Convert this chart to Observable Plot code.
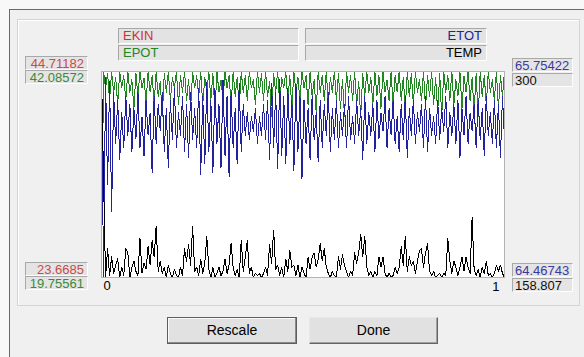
<!DOCTYPE html>
<html><head><meta charset="utf-8">
<script src="https://cdn.jsdelivr.net/npm/d3@7"></script>
<script src="https://cdn.jsdelivr.net/npm/@observablehq/plot@0.6"></script>
<style>
html,body{margin:0;padding:0}
body{width:584px;height:357px;overflow:hidden;background:#f8f8f8;position:relative;font-family:"Liberation Sans",Arial,sans-serif;}
.abs{position:absolute;box-sizing:border-box}
#win{left:9px;top:9px;width:590px;height:360px;background:#f0f0f0;border-left:1px solid #6a6a6a;border-top:1px solid #6a6a6a}
#grp{left:17px;top:19px;width:563px;height:287px;border:1px solid #d4d4d4;box-shadow:inset 1px 1px 0 #fff}
.lbl{background:#e3e3e3;border-top:1px solid #a8a8a8;border-left:1px solid #a8a8a8;border-bottom:1px solid #fff;border-right:1px solid #fff;font-size:13px;line-height:14px;white-space:nowrap;overflow:hidden}
.val{background:#e4e4e4;border-top:1px solid #a8a8a8;border-left:1px solid #a8a8a8;border-bottom:1px solid #fdfdfd;border-right:1px solid #fdfdfd;font-size:13px;line-height:13px;white-space:nowrap;overflow:hidden}
.btn{background:#e1e1e1;font-size:14px;text-align:center;line-height:25px;color:#000}
#plot{left:101px;top:71px}
</style></head>
<body>
<div class="abs" id="win"></div>
<div class="abs" id="grp"></div>
<div id="labels"></div>
<div class="abs" id="plot"></div>
<div class="abs btn" style="left:167px;top:317px;width:130px;height:27px;border:1px solid #5e5e5e;box-shadow:inset -1px -1px 0 #8a8a8a, inset 1px 1px 0 #fafafa">Rescale</div>
<div class="abs btn" style="left:309px;top:317px;width:129px;height:27px;border-top:1px solid #e8e8e8;border-left:1px solid #e8e8e8;border-bottom:1px solid #646464;border-right:1px solid #646464;box-shadow:inset -1px -1px 0 #a0a0a0">Done</div>
<script>
// ---- chart data ----
const seriesNames = ["EKIN", "EPOT", "ETOT", "TEMP"];
const scaleMax = [44.71182, 42.08572, 65.75422, 300];
const scaleMaxText = ["44.71182", "42.08572", "65.75422", "300"];
const scaleMin = [23.6685, 19.75561, 64.46743, 158.807];
const scaleMinText = ["23.6685", "19.75561", "64.46743", "158.807"];
const timeTicks = [0, 1];

const epot = [
19.756,42.08,40.30,41.86,38.96,42.08,39.85,41.42,38.51,42.08,
40.30,41.64,38.96,42.08,39.85,41.19,38.07,41.86,39.41,42.08,
40.30,41.42,38.74,42.08,39.85,41.64,38.51,42.08,39.41,40.97,
37.17,41.86,39.85,42.08,38.96,41.42,40.30,42.08,38.51,41.64,
39.85,42.08,38.96,41.19,38.07,42.08,40.30,41.64,39.41,42.08,
38.51,41.42,39.85,42.08,38.96,41.86,37.62,42.08,39.85,41.19,
38.96,42.08,40.30,41.64,38.51,42.08,39.41,41.42,38.07,42.08,
39.85,41.64,38.96,42.08,40.30,41.19,38.51,42.08,39.85,41.86,
38.96,42.08,39.41,40.97,37.17,41.86,39.85,42.08,38.51,41.42,
40.30,42.08,38.96,41.64,38.07,42.08,39.85,41.42,38.96,42.08,
40.30,41.64,38.51,42.08,39.41,41.19,37.62,42.08,39.85,41.64,
38.96,42.08,38.51,41.42,39.85,42.08,38.96,41.86,38.07,41.19,
37.17,42.08,39.85,41.64,38.96,42.08,38.51,40.97,37.17,41.86,
39.41,42.08,39.85,41.42,38.51,42.08,39.41,41.64,38.07,42.08,
39.85,41.19,38.96,42.08,38.51,41.64,39.85,42.08,38.96,41.42,
38.07,42.08,39.41,41.86,38.51,42.08,39.85,41.19,38.96,42.08,
38.07,41.64,39.41,42.08,38.51,41.42,37.62,41.86,37.17,42.08,
39.85,41.64,38.96,42.08,38.51,41.19,39.41,42.08,38.07,41.64,
39.85,42.08,38.96,41.42,37.62,41.86,37.17,42.08,39.41,41.64,
38.51,42.08,39.85,41.19,38.96,42.08,38.07,41.64,39.41,42.08
];
const etot = [
65.754,64.467,65.715,65.046,65.689,64.879,65.625,65.305,65.574,65.202,
65.496,65.279,65.599,65.356,65.548,65.253,65.522,65.331,65.625,65.279,
65.471,65.228,65.574,65.356,65.496,65.125,65.599,65.305,65.548,65.382,
65.625,65.253,65.522,65.151,65.574,65.331,65.651,65.279,65.496,65.356,
65.599,65.253,65.548,65.215,65.625,65.331,65.522,65.279,65.651,65.112,
65.599,65.176,65.689,65.253,65.574,65.125,65.651,65.305,65.548,65.151,
65.702,65.228,65.599,65.099,65.625,65.279,65.522,65.176,65.677,65.253,
65.548,65.356,65.496,65.331,65.471,65.382,65.522,65.305,65.471,65.356,
65.548,65.331,65.574,65.202,65.677,65.279,65.625,65.151,65.702,65.228,
65.599,65.176,65.651,65.305,65.574,65.138,65.677,65.253,65.599,65.086,
65.574,65.305,65.522,65.202,65.599,65.331,65.496,65.189,65.574,65.279,
65.548,65.356,65.625,65.253,65.522,65.331,65.574,65.279,65.496,65.356,
65.548,65.279,65.599,65.331,65.471,65.305,65.574,65.356,65.522,65.202,
65.599,65.305,65.496,65.356,65.548,65.253,65.574,65.331,65.496,65.382,
65.599,65.279,65.522,65.356,65.574,65.305,65.471,65.253,65.548,65.331,
65.599,65.215,65.522,65.356,65.574,65.305,65.496,65.382,65.548,65.279,
65.599,65.253,65.522,65.356,65.471,65.305,65.574,65.331,65.522,65.382,
65.599,65.279,65.496,65.356,65.548,65.305,65.574,65.215,65.522,65.356,
65.599,65.305,65.496,65.382,65.548,65.279,65.574,65.331,65.522,65.228,
65.599,65.356,65.496,65.305,65.574,65.279,65.548,65.215,65.599,65.331
];
const temp = [
300,226.6,158.8,178.6,160.2,172.9,161.6,167.3,171.5,158.8,
165.9,160.2,178.6,175.7,158.8,165.9,170.1,163.0,160.2,185.6,
161.6,168.7,164.5,180.0,167.3,184.2,172.9,194.1,163.0,170.1,
161.6,165.9,158.8,167.3,161.6,158.8,164.5,160.2,158.8,165.9,
160.2,178.6,170.1,181.4,167.3,194.1,163.0,165.9,160.2,171.5,
161.6,168.7,187.0,164.5,158.8,165.9,158.8,161.6,165.9,160.2,
163.0,171.5,161.6,167.3,182.1,165.9,160.2,164.5,158.8,184.2,
163.0,172.9,184.2,161.6,165.9,158.8,161.6,160.2,161.6,158.8,
161.6,165.9,160.2,181.4,168.7,191.3,164.5,167.3,160.2,165.9,
158.8,171.5,163.0,177.2,165.9,167.3,160.2,167.3,158.8,165.9,
161.6,158.8,172.9,164.5,172.9,175.7,165.9,171.5,182.1,170.1,
178.6,165.9,161.6,158.8,163.0,160.2,158.8,172.9,164.5,174.3,
167.3,163.0,158.8,163.0,160.2,175.7,168.7,175.7,188.5,172.9,
187.0,165.9,160.2,163.0,158.8,163.0,160.2,172.9,165.9,172.9,
161.6,158.8,161.6,158.8,160.2,165.9,161.6,165.9,180.0,167.3,
187.0,163.0,172.9,167.3,170.1,161.6,170.1,177.2,178.6,165.9,
175.7,182.1,163.0,160.2,163.0,158.8,160.2,161.6,158.8,161.6,
160.2,185.6,170.1,161.6,170.1,165.9,160.2,165.9,172.9,163.0,
172.9,165.9,161.6,199.8,164.5,160.2,164.5,158.8,165.9,161.6,
170.1,160.2,161.6,158.8,161.6,167.3,163.0,167.3,161.6,158.8
];

// ---- styling (not data) ----
const colors = {EKIN: "#cc3434", EPOT: "#228622", ETOT: "#22229e", TEMP: "#000000"};
const valColors = {EKIN: "#c84a4a", EPOT: "#3a8a3a", ETOT: "#3a3a9e", TEMP: "#111111"};

// ---- dialog labels (HTML) ----
const L = document.getElementById("labels");
function box(cls, x, y, w, h, text, color, align, pad) {
  const d = document.createElement("div");
  d.className = "abs " + cls;
  Object.assign(d.style, {left: x + "px", top: y + "px", width: w + "px", height: h + "px", color,
    textAlign: align, paddingLeft: align === "left" ? pad + "px" : "0", paddingRight: align === "right" ? pad + "px" : "0"});
  d.textContent = text;
  L.appendChild(d);
}
box("lbl", 118, 28, 181, 16, seriesNames[0], colors.EKIN, "left", 4);
box("lbl", 305, 28, 182, 16, seriesNames[2], colors.ETOT, "right", 4);
box("lbl", 118, 45, 181, 16, seriesNames[1], colors.EPOT, "left", 4);
box("lbl", 305, 45, 182, 16, seriesNames[3], colors.TEMP, "right", 4);
box("val", 25, 56, 63, 14, scaleMaxText[0], valColors.EKIN, "right", 3);
box("val", 25, 70, 63, 14, scaleMaxText[1], valColors.EPOT, "right", 3);
box("val", 512, 58, 61, 14, scaleMaxText[2], valColors.ETOT, "left", 2);
box("val", 512, 73, 61, 14, scaleMaxText[3], valColors.TEMP, "left", 2);
box("val", 25, 262, 63, 14, scaleMinText[0], valColors.EKIN, "right", 3);
box("val", 25, 276, 63, 14, scaleMinText[1], valColors.EPOT, "right", 3);
box("val", 512, 263, 61, 14, scaleMinText[2], valColors.ETOT, "left", 2);
box("val", 512, 278, 61, 14, scaleMinText[3], valColors.TEMP, "left", 2);

// ---- plot ----
const N = temp.length;
const xs = d3.range(N).map(i => i / (N - 1));
function rows(vals, k) {
  return vals.map((v, i) => ({t: xs[i], v: (v - scaleMin[k]) / (scaleMax[k] - scaleMin[k])}));
}
const lineOpts = (color) => ({x: "t", y: "v", stroke: color, strokeWidth: 1, curve: "linear", shapeRendering: "crispEdges", clip: true});
const chart = Plot.plot({
  width: 404, height: 226,
  marginTop: 0, marginLeft: 0, marginRight: 1, marginBottom: 20,
  style: {background: "transparent", fontFamily: "'Liberation Sans', Arial, sans-serif", fontSize: "13px", overflow: "visible"},
  x: {domain: [0, 1], axis: null},
  y: {domain: [0, 1], axis: null},
  marks: [
    Plot.frame({fill: "#ffffff", stroke: "none"}),
    Plot.line(rows(epot, 1), lineOpts(colors.EPOT)),
    Plot.line(rows(etot, 2), lineOpts(colors.ETOT)),
    Plot.line(rows(temp, 3), lineOpts(colors.TEMP)),
    Plot.frame({stroke: "#b4b4b4"}),
    Plot.text(timeTicks.slice(0, 1), {x: d => d, text: d => String(d), frameAnchor: "bottom", lineAnchor: "top", dy: 3, dx: 2, textAnchor: "start", fill: "#000"}),
    Plot.text(timeTicks.slice(1), {x: d => d, text: d => String(d), frameAnchor: "bottom", lineAnchor: "top", dy: 4, dx: -5, textAnchor: "end", fill: "#000"})
  ]
});
document.getElementById("plot").appendChild(chart);
</script>
</body></html>
